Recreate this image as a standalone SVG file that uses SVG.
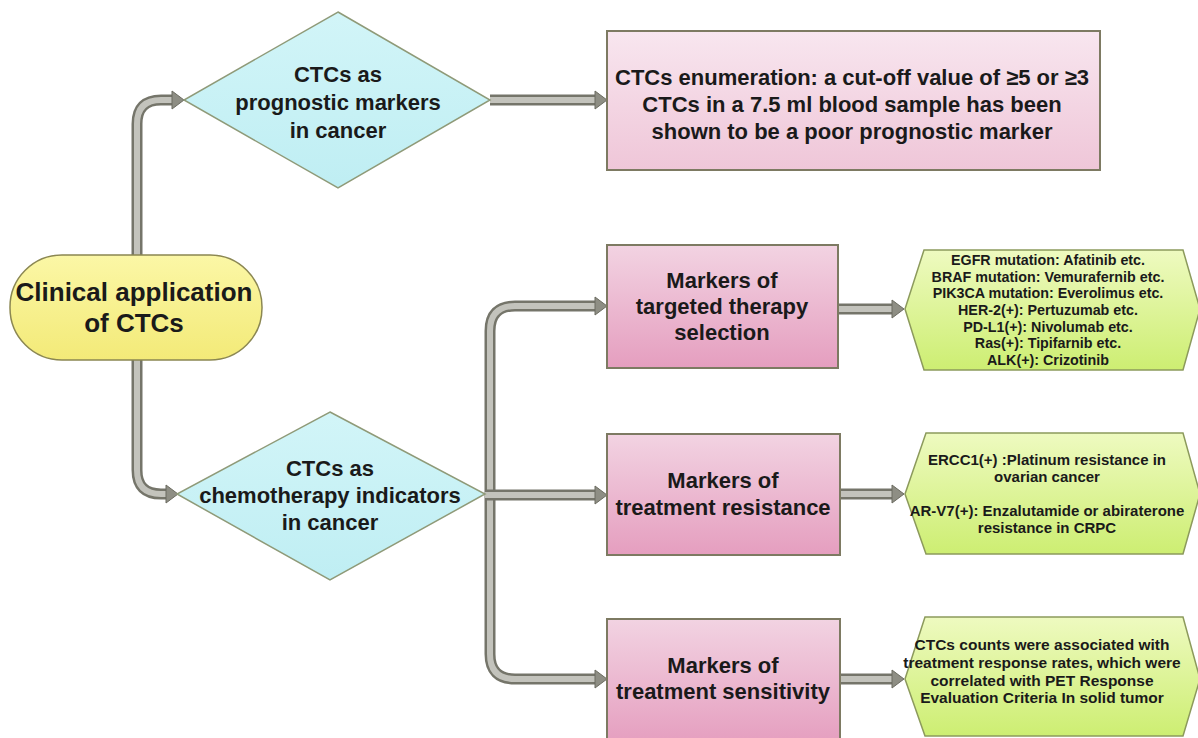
<svg xmlns="http://www.w3.org/2000/svg" width="1198" height="738" viewBox="0 0 1198 738">
<defs>
<linearGradient id="gPinkLight" x1="0" y1="0" x2="0" y2="1"><stop offset="0" stop-color="#f8e6ef"/><stop offset="1" stop-color="#efc6d8"/></linearGradient>
<linearGradient id="gPink" x1="0" y1="0" x2="0" y2="1"><stop offset="0" stop-color="#f2d3e2"/><stop offset="1" stop-color="#e59ebf"/></linearGradient>
<linearGradient id="gYellow" x1="0" y1="0" x2="0" y2="1"><stop offset="0" stop-color="#fbf7a6"/><stop offset="1" stop-color="#f3ea78"/></linearGradient>
<linearGradient id="gGreen" x1="0" y1="0" x2="0" y2="1"><stop offset="0" stop-color="#eefac0"/><stop offset="1" stop-color="#cdee72"/></linearGradient>
<linearGradient id="gCyan" x1="0" y1="0" x2="0" y2="1"><stop offset="0" stop-color="#d2f5f8"/><stop offset="1" stop-color="#bfeef3"/></linearGradient>
</defs>
<style>
text{font-family:"Liberation Sans",Arial,sans-serif;font-weight:bold;fill:#1a1a1a;text-anchor:middle}
.t20{font-size:22px}
.t24{font-size:26px}
.t12{font-size:14.3px}
.t13{font-size:15px}
.t15{font-size:15.5px}
.dia{fill:url(#gCyan);stroke:#8f9a78;stroke-width:1.5}
.pl{fill:url(#gPinkLight);stroke:#7d7a62;stroke-width:2}
.pk{fill:url(#gPink);stroke:#7d7a62;stroke-width:2}
.yl{fill:url(#gYellow);stroke:#8b8752;stroke-width:1.5}
.gr{fill:url(#gGreen);stroke:#8c9a5c;stroke-width:1.5}
.to{fill:none;stroke:#75756a;stroke-width:11}
.ti{fill:none;stroke:#c3c3bc;stroke-width:6}
.ah{fill:#8e8e84;stroke:#6b6b60;stroke-width:1}
</style>
<g id="connectors">
<path class="to" d="M137,255 V124 Q137,100 161,100 H173"/>
<path class="ti" d="M137,255 V124 Q137,100 161,100 H173"/>
<polygon class="ah" points="172,91 184,100 172,109"/>
<path class="to" d="M137,360 V470 Q137,494 161,494 H167"/>
<path class="ti" d="M137,360 V470 Q137,494 161,494 H167"/>
<polygon class="ah" points="166,485 178,494 166,503"/>
<path class="to" d="M490,100 H596"/>
<path class="ti" d="M490,100 H596"/>
<polygon class="ah" points="595,91 607,100 595,109"/>
<path class="to" d="M596,306 H515 Q490,306 490,331 V654 Q490,679 515,679 H596"/>
<path class="ti" d="M596,306 H515 Q490,306 490,331 V654 Q490,679 515,679 H596"/>
<path class="to" d="M485,495 H596"/>
<path class="ti" d="M485,495 H596"/>
<polygon class="ah" points="595,297 607,306 595,315"/>
<polygon class="ah" points="595,486 607,495 595,504"/>
<polygon class="ah" points="595,670 607,679 595,688"/>
<path class="to" d="M838,309 H893"/>
<path class="ti" d="M838,309 H893"/>
<polygon class="ah" points="892,300 904,309 892,318"/>
<path class="to" d="M840,494 H893"/>
<path class="ti" d="M840,494 H893"/>
<polygon class="ah" points="892,485 904,494 892,503"/>
<path class="to" d="M840,679 H893"/>
<path class="ti" d="M840,679 H893"/>
<polygon class="ah" points="892,670 904,679 892,688"/>
</g>
<g id="n-clinical">
<rect class="yl" x="10" y="255" width="252" height="105" rx="52" ry="52"/>
<text class="t24" x="134" y="301">Clinical application</text>
<text class="t24" x="134" y="332">of CTCs</text>
</g>
<g id="n-prognostic">
<polygon class="dia" points="338,12 490,100 338,188 184,100"/>
<text class="t20" x="338" y="82">CTCs as</text>
<text class="t20" x="338" y="110">prognostic markers</text>
<text class="t20" x="338" y="138">in cancer</text>
</g>
<g id="n-enumeration">
<rect class="pl" x="607" y="31" width="493" height="139"/>
<text class="t20" x="852" y="85">CTCs enumeration: a cut-off value of ≥5 or ≥3</text>
<text class="t20" x="852" y="112">CTCs in a 7.5 ml blood sample has been</text>
<text class="t20" x="852" y="139">shown to be a poor prognostic marker</text>
</g>
<g id="n-chemo">
<polygon class="dia" points="330,412 485,494 330,580 177,494"/>
<text class="t20" x="330" y="476">CTCs as</text>
<text class="t20" x="330" y="503">chemotherapy indicators</text>
<text class="t20" x="330" y="530">in cancer</text>
</g>
<g id="n-targeted">
<rect class="pk" x="607" y="245" width="231" height="123"/>
<text class="t20" x="722" y="288">Markers of</text>
<text class="t20" x="722" y="314">targeted therapy</text>
<text class="t20" x="722" y="340">selection</text>
</g>
<g id="n-resistance">
<rect class="pk" x="607" y="434" width="233" height="121"/>
<text class="t20" x="723" y="488">Markers of</text>
<text class="t20" x="723" y="515">treatment resistance</text>
</g>
<g id="n-sensitivity">
<rect class="pk" x="607" y="619" width="233" height="125"/>
<text class="t20" x="723" y="673">Markers of</text>
<text class="t20" x="723" y="699">treatment sensitivity</text>
</g>
<g id="n-targeted-list">
<polygon class="gr" points="905,309 924,250 1183,250 1200,309 1183,370 924,370"/>
<text class="t12" x="1048" y="265">EGFR mutation: Afatinib etc.</text>
<text class="t12" x="1048" y="282">BRAF mutation: Vemurafernib etc.</text>
<text class="t12" x="1048" y="298">PIK3CA mutation: Everolimus etc.</text>
<text class="t12" x="1048" y="315">HER-2(+): Pertuzumab etc.</text>
<text class="t12" x="1048" y="332">PD-L1(+): Nivolumab etc.</text>
<text class="t12" x="1048" y="348">Ras(+): Tipifarnib etc.</text>
<text class="t12" x="1048" y="365">ALK(+): Crizotinib</text>
</g>
<g id="n-resistance-list">
<polygon class="gr" points="905,494 926,433 1183,433 1200,494 1183,554 926,554"/>
<text class="t13" x="1047" y="465">ERCC1(+) :Platinum resistance in</text>
<text class="t13" x="1047" y="482">ovarian cancer</text>
<text class="t13" x="1047" y="516">AR-V7(+): Enzalutamide or abiraterone</text>
<text class="t13" x="1047" y="533">resistance in CRPC</text>
</g>
<g id="n-sensitivity-list">
<polygon class="gr" points="905,679 925,617 1183,617 1200,679 1183,736 925,736"/>
<text class="t15" x="1042" y="650">CTCs counts were associated with</text>
<text class="t15" x="1042" y="668">treatment response rates, which were</text>
<text class="t15" x="1042" y="686">correlated with PET Response</text>
<text class="t15" x="1042" y="703">Evaluation Criteria In solid tumor</text>
</g>
</svg>
